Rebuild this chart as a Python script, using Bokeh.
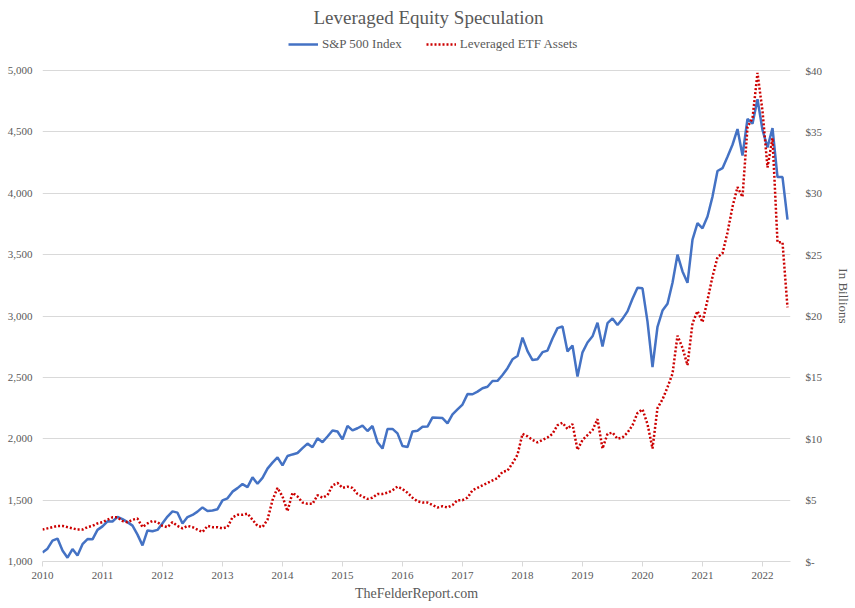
import math
from bokeh.plotting import figure
from bokeh.models import (Range1d, LinearAxis, FixedTicker, NumeralTickFormatter,
                          Legend, LegendItem, ColumnDataSource)
from bokeh.embed import file_html
from bokeh.resources import INLINE

# ---- data (monthly, Jan 2010 .. Jun 2022) ----
years = ["2010", "2011", "2012", "2013", "2014", "2015", "2016",
         "2017", "2018", "2019", "2020", "2021", "2022"]

sp500 = [
    1073.87, 1104.49, 1169.43, 1186.69, 1089.41, 1030.71, 1101.60, 1049.33, 1141.20, 1183.26, 1180.55, 1257.64,
    1286.12, 1327.22, 1325.83, 1363.61, 1345.20, 1320.64, 1292.28, 1218.89, 1131.42, 1253.30, 1246.96, 1257.60,
    1312.41, 1365.68, 1408.47, 1397.91, 1310.33, 1362.16, 1379.32, 1406.58, 1440.67, 1412.16, 1416.18, 1426.19,
    1498.11, 1514.68, 1569.19, 1597.57, 1630.74, 1606.28, 1685.73, 1632.97, 1681.55, 1756.54, 1805.81, 1848.36,
    1782.59, 1859.45, 1872.34, 1883.95, 1923.57, 1960.23, 1930.67, 2003.37, 1972.29, 2018.05, 2067.56, 2058.90,
    1994.99, 2104.50, 2067.89, 2085.51, 2107.39, 2063.11, 2103.84, 1972.18, 1920.03, 2079.36, 2080.41, 2043.94,
    1940.24, 1932.23, 2059.74, 2065.30, 2096.95, 2098.86, 2173.60, 2170.95, 2168.27, 2126.15, 2198.81, 2238.83,
    2278.87, 2363.64, 2362.72, 2384.20, 2411.80, 2423.41, 2470.30, 2471.65, 2519.36, 2575.26, 2647.58, 2673.61,
    2823.81, 2713.83, 2640.87, 2648.05, 2705.27, 2718.37, 2816.29, 2901.52, 2913.98, 2711.74, 2760.17, 2506.85,
    2704.10, 2784.49, 2834.40, 2945.83, 2752.06, 2941.76, 2980.38, 2926.46, 2976.74, 3037.56, 3140.98, 3230.78,
    3225.52, 2954.22, 2584.59, 2912.43, 3044.31, 3100.29, 3271.12, 3500.31, 3363.00, 3269.96, 3621.63, 3756.07,
    3714.24, 3811.15, 3972.89, 4181.17, 4204.11, 4297.50, 4395.26, 4522.68, 4307.54, 4605.38, 4567.00, 4766.18,
    4515.55, 4373.94, 4530.41, 4131.93, 4132.15, 3785.38,
]

lev_etf = [
    2.6, 2.7, 2.8, 2.9, 2.9, 2.8, 2.7, 2.6, 2.6, 2.8, 2.9, 3.1,
    3.2, 3.4, 3.6, 3.6, 3.3, 3.2, 3.4, 3.5, 2.8, 3.1, 3.3, 3.2,
    2.9, 2.8, 3.2, 2.9, 2.7, 2.9, 2.8, 2.6, 2.4, 2.9, 2.8, 2.8,
    2.7, 2.8, 3.6, 3.8, 3.8, 3.9, 3.4, 2.9, 2.8, 3.4, 5.0, 6.0,
    5.3, 4.1, 5.6, 5.3, 4.8, 4.7, 4.7, 5.4, 5.2, 5.4, 6.2, 6.4,
    6.0, 6.1, 6.0, 5.5, 5.3, 5.1, 5.2, 5.5, 5.5, 5.6, 5.8, 6.1,
    5.9, 5.6, 5.2, 4.9, 4.8, 4.8, 4.6, 4.4, 4.5, 4.4, 4.6, 5.0,
    5.0, 5.2, 5.8, 6.0, 6.2, 6.4, 6.6, 6.8, 7.3, 7.4, 8.0, 8.7,
    10.4, 10.2, 9.9, 9.7, 9.9, 10.1, 10.4, 11.1, 11.3, 10.8, 11.2, 9.1,
    9.9, 10.3, 10.7, 11.6, 9.2, 10.4, 10.5, 10.0, 10.1, 10.5, 11.1, 12.1,
    12.4, 11.2, 9.2, 12.5, 13.2, 14.2, 15.3, 18.4, 17.4, 16.0, 19.4, 20.4,
    19.5, 21.3, 23.2, 24.8, 25.1, 26.8, 28.9, 30.5, 29.7, 35.4, 36.1, 39.8,
    36.7, 32.1, 34.5, 26.0, 26.0, 20.7,
]

left_ticks = [1000, 1500, 2000, 2500, 3000, 3500, 4000, 4500, 5000]
right_ticks = [0, 5, 10, 15, 20, 25, 30, 35, 40]

months = list(range(len(sp500)))
src = ColumnDataSource(dict(m=months, sp=sp500, etf=lev_etf))

FONT = "Liberation Serif"
TXT = "#595959"
GRID = "#D9D9D9"

# frame extends above the 5,000 line so the legend can sit inside it
p = figure(width=855, height=608, output_backend="svg", toolbar_location=None,
           x_range=Range1d(0, 149.6), y_range=Range1d(1000, 5326),
           min_border_left=42, min_border_right=65, min_border_top=30,
           min_border_bottom=47)
p.outline_line_color = None
p.background_fill_color = "white"
p.border_fill_color = "white"

p.title.text = "Leveraged Equity Speculation"
p.title.align = "left"
p.title.offset = 271
p.title.standoff = 6
p.title.text_font = FONT
p.title.text_font_size = "19px"
p.title.text_font_style = "normal"
p.title.text_color = TXT

p.extra_y_ranges = {"r": Range1d(0, 43.26)}

# grid
p.xgrid.visible = False
p.ygrid.grid_line_color = GRID
p.ygrid.grid_line_width = 1
p.ygrid.ticker = FixedTicker(ticks=left_ticks)

# x axis
xa = p.xaxis[0]
xa.ticker = FixedTicker(ticks=[12 * i for i in range(len(years))])
xa.major_label_overrides = {12 * i: y for i, y in enumerate(years)}
xa.axis_line_color = GRID
xa.major_tick_line_color = GRID
xa.major_tick_in = 0
xa.major_tick_out = 5
xa.minor_tick_line_color = None
xa.major_label_text_font = FONT
xa.major_label_text_font_size = "11px"
xa.major_label_text_color = TXT
xa.major_label_standoff = 5
xa.axis_label = "TheFelderReport.com"
xa.axis_label_text_font = FONT
xa.axis_label_text_font_size = "14px"
xa.axis_label_text_font_style = "normal"
xa.axis_label_text_color = TXT
xa.axis_label_standoff = 4

# left axis
ya = p.yaxis[0]
ya.ticker = FixedTicker(ticks=left_ticks)
ya.formatter = NumeralTickFormatter(format="0,0")
ya.axis_line_color = None
ya.major_tick_line_color = None
ya.major_tick_out = 0
ya.major_tick_in = 0
ya.minor_tick_line_color = None
ya.major_label_text_font = FONT
ya.major_label_text_font_size = "11px"
ya.major_label_text_color = TXT
ya.major_label_standoff = 10

# right axis
ra = LinearAxis(y_range_name="r", ticker=FixedTicker(ticks=right_ticks))
ra.major_label_overrides = {t: ("$-" if t == 0 else f"${t}") for t in right_ticks}
ra.axis_line_color = None
ra.major_tick_line_color = None
ra.major_tick_out = 0
ra.major_tick_in = 0
ra.minor_tick_line_color = None
ra.major_label_text_font = FONT
ra.major_label_text_font_size = "11px"
ra.major_label_text_color = TXT
ra.major_label_standoff = 15
ra.axis_label = "In Billions"
ra.axis_label_text_font = FONT
ra.axis_label_text_font_size = "13px"
ra.axis_label_text_font_style = "normal"
ra.axis_label_text_color = TXT
ra.axis_label_standoff = 11
if "axis_label_orientation" in LinearAxis.properties():
    ra.axis_label_orientation = "vertical"
p.add_layout(ra, "right")

# lines
l_sp = p.line("m", "sp", source=src, line_color="#4472C4", line_width=2.5)
l_etf = p.line("m", "etf", source=src, y_range_name="r", line_color="#CC0000",
               line_width=2.5, line_dash="2 2")

legend = Legend(items=[LegendItem(label="S&P 500 Index", renderers=[l_sp]),
                       LegendItem(label="Leveraged ETF Assets", renderers=[l_etf])],
                orientation="horizontal", location=(246, 509),
                label_text_font=FONT, label_text_font_size="13px", label_text_color=TXT,
                glyph_width=30, glyph_height=12, label_standoff=4, spacing=24,
                border_line_color=None, background_fill_alpha=0,
                padding=2, margin=0)
p.add_layout(legend)

open("out.html", "w").write(file_html(p, INLINE))
